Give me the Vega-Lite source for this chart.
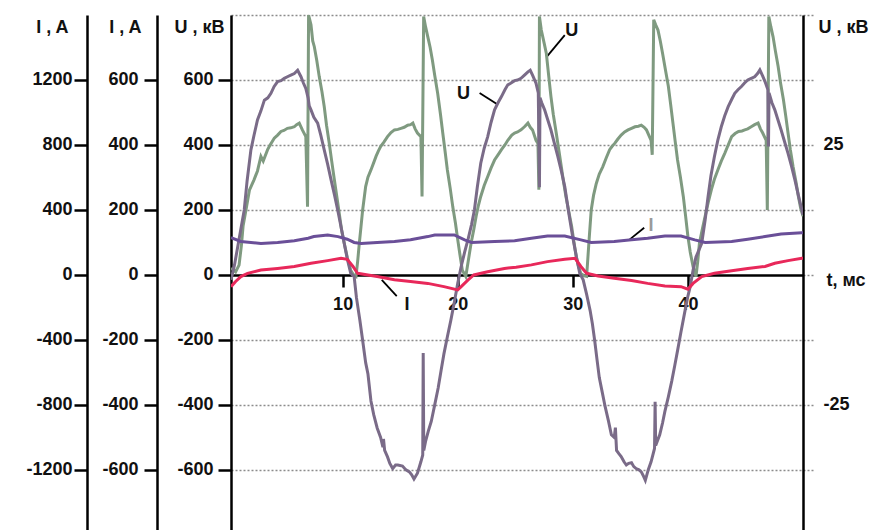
{
  "$schema": "https://vega.github.io/schema/vega-lite/v6.json",
  "width": 572,
  "height": 515,
  "autosize": {"type": "none"},
  "padding": {"left": 231, "top": 15, "right": 80, "bottom": 0},
  "background": "white",
  "config": {
    "view": {"stroke": null},
    "font": "Liberation Sans",
    "axis": {
      "labelFont": "Liberation Sans", "titleFont": "Liberation Sans",
      "labelFontSize": 18, "titleFontSize": 18, "titleFontWeight": "bold", "labelFontWeight": "bold",
      "labelColor": "#111", "titleColor": "#111",
      "domainColor": "#000", "tickColor": "#000", "domainWidth": 2.5, "tickWidth": 2.5,
      "tickSize": 13, "grid": false
    }
  },
  "datasets": {
    "u1": [
      {"t":0.3,"v":-15},{"t":0.6,"v":30},{"t":0.9,"v":90},{"t":1.2,"v":150},{"t":1.45,"v":200},{"t":1.7,"v":290},{"t":2.03,"v":385},{"t":2.3,"v":430},{"t":2.6,"v":477},{"t":2.9,"v":505},{"t":3.2,"v":538},{"t":3.5,"v":545},{"t":3.77,"v":559},{"t":4.05,"v":580},{"t":4.35,"v":595},{"t":4.65,"v":598},{"t":4.93,"v":605},{"t":5.2,"v":610},{"t":5.5,"v":615},{"t":5.8,"v":620},{"t":6.09,"v":630},{"t":6.38,"v":610},{"t":6.6,"v":590},{"t":6.8,"v":574},{"t":7.0,"v":545},{"t":7.1,"v":520},{"t":7.25,"v":508},{"t":7.5,"v":485},{"t":7.83,"v":467},{"t":8.1,"v":430},{"t":8.4,"v":385},{"t":8.7,"v":340},{"t":9.0,"v":292},{"t":9.3,"v":245},{"t":9.57,"v":200},{"t":9.85,"v":150},{"t":10.14,"v":97},{"t":10.4,"v":50},{"t":10.7,"v":5},{"t":11.0,"v":-5},{"t":11.2,"v":-70},{"t":11.5,"v":-140},{"t":11.74,"v":-202},{"t":12.0,"v":-270},{"t":12.2,"v":-305},{"t":12.46,"v":-388},{"t":12.7,"v":-430},{"t":13.0,"v":-471},{"t":13.3,"v":-500},{"t":13.5,"v":-530},{"t":13.55,"v":-505},{"t":13.65,"v":-540},{"t":13.9,"v":-560},{"t":14.1,"v":-580},{"t":14.35,"v":-596},{"t":14.6,"v":-585},{"t":14.8,"v":-585},{"t":15.2,"v":-588},{"t":15.5,"v":-600},{"t":15.8,"v":-606},{"t":16.0,"v":-615},{"t":16.2,"v":-628},{"t":16.5,"v":-610},{"t":16.8,"v":-575},{"t":16.96,"v":-554},{"t":17.0,"v":-240},{"t":17.05,"v":-540},{"t":17.2,"v":-513},{"t":17.45,"v":-480},{"t":17.7,"v":-451},{"t":18.0,"v":-400},{"t":18.3,"v":-348},{"t":18.55,"v":-295},{"t":18.8,"v":-243},{"t":19.1,"v":-190},{"t":19.4,"v":-140},{"t":19.7,"v":-85},{"t":20.0,"v":-26},{"t":20.3,"v":26},{"t":20.6,"v":70},{"t":20.9,"v":110},{"t":21.2,"v":155},{"t":21.45,"v":200},{"t":21.7,"v":270},{"t":22.0,"v":344},{"t":22.3,"v":390},{"t":22.6,"v":425},{"t":22.9,"v":470},{"t":23.2,"v":508},{"t":23.5,"v":530},{"t":23.8,"v":549},{"t":24.1,"v":570},{"t":24.35,"v":585},{"t":24.6,"v":590},{"t":24.94,"v":598},{"t":25.2,"v":600},{"t":25.5,"v":605},{"t":25.8,"v":615},{"t":26.1,"v":625},{"t":26.3,"v":630},{"t":26.5,"v":615},{"t":26.8,"v":590},{"t":27.0,"v":560},{"t":27.1,"v":270},{"t":27.15,"v":545},{"t":27.3,"v":530},{"t":27.55,"v":508},{"t":27.8,"v":480},{"t":28.1,"v":446},{"t":28.4,"v":405},{"t":28.7,"v":364},{"t":29.0,"v":320},{"t":29.3,"v":272},{"t":29.5,"v":225},{"t":29.7,"v":179},{"t":29.95,"v":125},{"t":30.2,"v":77},{"t":30.4,"v":40},{"t":30.6,"v":5},{"t":30.9,"v":-15},{"t":31.2,"v":-60},{"t":31.5,"v":-109},{"t":31.7,"v":-150},{"t":31.9,"v":-202},{"t":32.1,"v":-260},{"t":32.3,"v":-316},{"t":32.55,"v":-360},{"t":32.8,"v":-404},{"t":33.1,"v":-450},{"t":33.35,"v":-492},{"t":33.6,"v":-500},{"t":33.7,"v":-470},{"t":33.8,"v":-540},{"t":34.0,"v":-550},{"t":34.2,"v":-559},{"t":34.45,"v":-575},{"t":34.65,"v":-585},{"t":34.85,"v":-580},{"t":35.1,"v":-578},{"t":35.3,"v":-590},{"t":35.5,"v":-596},{"t":35.75,"v":-600},{"t":35.95,"v":-606},{"t":36.15,"v":-620},{"t":36.3,"v":-632},{"t":36.55,"v":-600},{"t":36.8,"v":-575},{"t":37.1,"v":-534},{"t":37.15,"v":-390},{"t":37.2,"v":-525},{"t":37.55,"v":-492},{"t":37.8,"v":-455},{"t":38.0,"v":-420},{"t":38.3,"v":-375},{"t":38.6,"v":-326},{"t":38.85,"v":-280},{"t":39.1,"v":-233},{"t":39.4,"v":-175},{"t":39.7,"v":-119},{"t":40.0,"v":-65},{"t":40.2,"v":-36},{"t":40.45,"v":15},{"t":40.7,"v":55},{"t":41.0,"v":80},{"t":41.2,"v":97},{"t":41.5,"v":170},{"t":41.75,"v":241},{"t":42.0,"v":305},{"t":42.3,"v":364},{"t":42.6,"v":415},{"t":42.9,"v":456},{"t":43.2,"v":490},{"t":43.5,"v":518},{"t":43.8,"v":540},{"t":44.07,"v":559},{"t":44.35,"v":570},{"t":44.65,"v":580},{"t":44.9,"v":590},{"t":45.2,"v":600},{"t":45.5,"v":605},{"t":45.8,"v":610},{"t":46.05,"v":620},{"t":46.25,"v":631},{"t":46.5,"v":612},{"t":46.7,"v":595},{"t":46.95,"v":570},{"t":47.0,"v":395},{"t":47.05,"v":560},{"t":47.3,"v":530},{"t":47.55,"v":508},{"t":47.8,"v":480},{"t":48.1,"v":446},{"t":48.4,"v":410},{"t":48.7,"v":374},{"t":49.0,"v":335},{"t":49.3,"v":292},{"t":49.6,"v":245},{"t":49.9,"v":200},{"t":50.0,"v":185}
    ],
    "u2": [
      {"t":0.3,"v":1.3},{"t":0.7,"v":0.6},{"t":1.0,"v":1.9},{"t":1.2,"v":5.6},{"t":1.35,"v":9.4},{"t":1.6,"v":12.5},{"t":1.9,"v":16.3},{"t":2.3,"v":18.3},{"t":2.6,"v":20.0},{"t":2.9,"v":22.8},{"t":3.1,"v":21.9},{"t":3.48,"v":24.1},{"t":3.7,"v":25.0},{"t":4.06,"v":26.3},{"t":4.35,"v":26.9},{"t":4.64,"v":27.6},{"t":4.9,"v":27.8},{"t":5.2,"v":28.2},{"t":5.5,"v":28.3},{"t":5.8,"v":28.5},{"t":6.0,"v":28.9},{"t":6.23,"v":29.2},{"t":6.5,"v":27.9},{"t":6.8,"v":26.6},{"t":6.95,"v":13.1},{"t":7.04,"v":50.0},{"t":7.25,"v":48.1},{"t":7.4,"v":45.0},{"t":7.54,"v":43.9},{"t":7.75,"v":41.3},{"t":7.97,"v":38.1},{"t":8.2,"v":35.3},{"t":8.4,"v":32.4},{"t":8.6,"v":28.8},{"t":8.84,"v":25.3},{"t":9.05,"v":21.9},{"t":9.28,"v":18.3},{"t":9.5,"v":15.0},{"t":9.7,"v":11.9},{"t":9.9,"v":8.8},{"t":10.14,"v":6.1},{"t":10.4,"v":3.4},{"t":10.7,"v":0.9},{"t":10.95,"v":0},{"t":11.16,"v":-0.3},{"t":11.3,"v":2.5},{"t":11.45,"v":6.1},{"t":11.6,"v":9.4},{"t":11.74,"v":12.5},{"t":12.0,"v":17.0},{"t":12.2,"v":18.8},{"t":12.46,"v":20.2},{"t":12.7,"v":21.6},{"t":12.9,"v":22.8},{"t":13.1,"v":23.8},{"t":13.3,"v":24.7},{"t":13.6,"v":25.6},{"t":13.9,"v":26.6},{"t":14.2,"v":27.4},{"t":14.5,"v":27.9},{"t":14.8,"v":28.0},{"t":15.07,"v":28.2},{"t":15.35,"v":28.4},{"t":15.65,"v":28.8},{"t":15.9,"v":28.9},{"t":16.1,"v":29.2},{"t":16.3,"v":28.1},{"t":16.5,"v":27.3},{"t":16.8,"v":26.6},{"t":16.9,"v":15.1},{"t":17.04,"v":49.7},{"t":17.2,"v":47.8},{"t":17.4,"v":45.8},{"t":17.6,"v":43.8},{"t":17.8,"v":41.3},{"t":18.0,"v":38.4},{"t":18.26,"v":34.9},{"t":18.5,"v":30.9},{"t":18.7,"v":27.3},{"t":18.9,"v":23.8},{"t":19.1,"v":20.2},{"t":19.35,"v":16.6},{"t":19.57,"v":13.1},{"t":19.8,"v":10.0},{"t":20.0,"v":6.8},{"t":20.2,"v":3.8},{"t":20.4,"v":0.9},{"t":20.7,"v":-0.3},{"t":20.9,"v":2.5},{"t":21.16,"v":6.1},{"t":21.4,"v":8.8},{"t":21.6,"v":11.3},{"t":21.8,"v":13.4},{"t":22.0,"v":15.1},{"t":22.3,"v":17.2},{"t":22.6,"v":18.9},{"t":22.9,"v":20.6},{"t":23.2,"v":22.1},{"t":23.5,"v":23.1},{"t":23.8,"v":24.1},{"t":24.1,"v":25.0},{"t":24.35,"v":25.9},{"t":24.7,"v":26.9},{"t":24.94,"v":27.3},{"t":25.2,"v":27.5},{"t":25.5,"v":27.9},{"t":25.8,"v":28.5},{"t":26.1,"v":29.2},{"t":26.3,"v":28.4},{"t":26.5,"v":27.9},{"t":26.8,"v":25.9},{"t":26.97,"v":25.3},{"t":27.05,"v":16.4},{"t":27.1,"v":49.7},{"t":27.26,"v":47.1},{"t":27.5,"v":44.7},{"t":27.7,"v":42.6},{"t":27.9,"v":38.4},{"t":28.1,"v":34.3},{"t":28.3,"v":30.9},{"t":28.56,"v":27.3},{"t":28.8,"v":23.8},{"t":29.0,"v":20.8},{"t":29.2,"v":17.8},{"t":29.4,"v":15.1},{"t":29.65,"v":12.2},{"t":29.9,"v":9.3},{"t":30.1,"v":6.3},{"t":30.3,"v":3.5},{"t":30.5,"v":1.6},{"t":30.7,"v":0.3},{"t":31.0,"v":-0.2},{"t":31.2,"v":-0.3},{"t":31.4,"v":6.3},{"t":31.6,"v":12.5},{"t":31.8,"v":15.3},{"t":32.04,"v":17.6},{"t":32.3,"v":19.4},{"t":32.6,"v":20.8},{"t":32.9,"v":22.5},{"t":33.2,"v":24.1},{"t":33.4,"v":24.7},{"t":33.64,"v":25.3},{"t":33.9,"v":26.1},{"t":34.2,"v":26.9},{"t":34.5,"v":27.5},{"t":34.8,"v":27.9},{"t":35.1,"v":28.2},{"t":35.4,"v":28.5},{"t":35.7,"v":28.6},{"t":35.95,"v":28.8},{"t":36.2,"v":28.4},{"t":36.4,"v":27.9},{"t":36.6,"v":26.9},{"t":36.8,"v":25.9},{"t":36.9,"v":23.1},{"t":37.03,"v":49.1},{"t":37.2,"v":48.1},{"t":37.4,"v":47.1},{"t":37.6,"v":45.0},{"t":37.8,"v":42.6},{"t":38.05,"v":39.4},{"t":38.3,"v":36.3},{"t":38.5,"v":32.8},{"t":38.7,"v":29.2},{"t":38.9,"v":25.6},{"t":39.1,"v":22.1},{"t":39.35,"v":18.8},{"t":39.6,"v":15.1},{"t":39.8,"v":11.3},{"t":40.0,"v":7.4},{"t":40.2,"v":4.4},{"t":40.45,"v":1.6},{"t":40.7,"v":-0.3},{"t":40.85,"v":2.5},{"t":41.0,"v":6.1},{"t":41.25,"v":8.8},{"t":41.5,"v":11.3},{"t":41.75,"v":13.8},{"t":42.04,"v":16.4},{"t":42.3,"v":18.4},{"t":42.6,"v":20.2},{"t":42.9,"v":21.9},{"t":43.2,"v":23.4},{"t":43.5,"v":25.0},{"t":43.8,"v":26.6},{"t":44.1,"v":27.2},{"t":44.4,"v":27.6},{"t":44.7,"v":27.7},{"t":44.94,"v":27.9},{"t":45.2,"v":28.1},{"t":45.5,"v":28.5},{"t":45.8,"v":28.9},{"t":46.1,"v":29.2},{"t":46.3,"v":28.1},{"t":46.5,"v":27.3},{"t":46.8,"v":25.9},{"t":46.9,"v":12.5},{"t":47.03,"v":49.7},{"t":47.2,"v":47.8},{"t":47.4,"v":45.8},{"t":47.6,"v":43.1},{"t":47.84,"v":40.1},{"t":48.05,"v":36.9},{"t":48.3,"v":33.7},{"t":48.5,"v":30.6},{"t":48.7,"v":27.3},{"t":48.9,"v":24.1},{"t":49.14,"v":20.8},{"t":49.4,"v":17.8},{"t":49.6,"v":15.1},{"t":49.8,"v":12.8},{"t":50.0,"v":11.3}
    ],
    "i1": [
      {"t":0.3,"v":115},{"t":1.16,"v":103},{"t":2.9,"v":97},{"t":4.35,"v":100},{"t":5.8,"v":105},{"t":7.0,"v":113},{"t":7.5,"v":118},{"t":8.7,"v":123},{"t":9.6,"v":118},{"t":10.4,"v":110},{"t":11.0,"v":100},{"t":11.6,"v":97},{"t":13.0,"v":100},{"t":14.5,"v":103},{"t":15.9,"v":108},{"t":17.4,"v":118},{"t":18.0,"v":123},{"t":19.7,"v":123},{"t":20.6,"v":108},{"t":21.2,"v":100},{"t":23.2,"v":103},{"t":24.94,"v":105},{"t":26.4,"v":113},{"t":27.8,"v":120},{"t":29.3,"v":120},{"t":30.7,"v":108},{"t":31.6,"v":100},{"t":33.6,"v":103},{"t":35.1,"v":108},{"t":36.5,"v":113},{"t":38.0,"v":120},{"t":39.4,"v":120},{"t":40.6,"v":108},{"t":41.5,"v":100},{"t":43.8,"v":103},{"t":45.2,"v":110},{"t":46.7,"v":118},{"t":48.1,"v":126},{"t":49.9,"v":130},{"t":50.0,"v":130}
    ],
    "i2": [
      {"t":0.3,"v":-72},{"t":0.7,"v":-40},{"t":1.16,"v":-10},{"t":1.74,"v":10},{"t":2.9,"v":30},{"t":4.35,"v":40},{"t":5.8,"v":52},{"t":7.25,"v":72},{"t":8.7,"v":88},{"t":9.86,"v":102},{"t":10.4,"v":96},{"t":10.9,"v":52},{"t":11.3,"v":10},{"t":12.2,"v":0},{"t":13.0,"v":-10},{"t":14.5,"v":-30},{"t":15.9,"v":-40},{"t":17.4,"v":-52},{"t":18.8,"v":-72},{"t":20.0,"v":-92},{"t":20.3,"v":-72},{"t":20.9,"v":-30},{"t":21.4,"v":0},{"t":22.6,"v":20},{"t":24.06,"v":40},{"t":25.07,"v":48},{"t":26.4,"v":62},{"t":27.8,"v":82},{"t":29.3,"v":96},{"t":30.2,"v":102},{"t":30.7,"v":52},{"t":31.2,"v":10},{"t":32.2,"v":-6},{"t":33.6,"v":-20},{"t":35.1,"v":-34},{"t":36.5,"v":-52},{"t":38.0,"v":-68},{"t":39.4,"v":-72},{"t":40.0,"v":-88},{"t":40.45,"v":-52},{"t":41.2,"v":-10},{"t":42.3,"v":10},{"t":43.8,"v":26},{"t":45.2,"v":40},{"t":46.7,"v":52},{"t":47.55,"v":72},{"t":48.7,"v":88},{"t":49.9,"v":102},{"t":50.0,"v":102}
    ],
    "ann": [
      {"t":20.5,"v":557,"label":"U","c":"k"},
      {"t":29.9,"v":751,"label":"U","c":"k"},
      {"t":15.6,"v":-92,"label":"I","c":"k"},
      {"t":36.8,"v":151,"label":"I","c":"g"}
    ],
    "lead": [
      {"t":21.9,"v":560,"t2":23.4,"v2":526},
      {"t":29.3,"v":738,"t2":27.8,"v2":674},
      {"t":13.4,"v":-15,"t2":14.7,"v2":-65},
      {"t":34.9,"v":108,"t2":36.2,"v2":145}
    ]
  },
  "encoding": {
    "x": {
      "field": "t", "type": "quantitative",
      "scale": {"domain": [0.3, 50], "nice": false, "zero": false},
      "axis": {
        "orient": "bottom", "offset": -255, "values": [10, 20, 30, 40],
        "labelExpr": "'' + datum.value",
        "title": "t, мс", "titleAngle": 0, "titleAlign": "left", "titleBaseline": "middle",
        "titleX": 595, "titleY": 5, "labelPadding": 8, "tickSize": 12, "labelFlush": false
      }
    }
  },
  "layer": [
    {
      "data": {"name": "ann"},
      "mark": {"type": "text", "fontSize": 18, "fontWeight": "bold", "font": "Liberation Sans", "align": "center", "baseline": "middle"},
      "encoding": {
        "y": {"field": "v", "type": "quantitative", "scale": {"domain": [-785, 800], "nice": false, "zero": false},
          "axis": {"orient": "left", "grid": true, "values": [-600, -400, -200, 200, 400, 600, 800], "labels": false, "ticks": false, "domain": false, "title": null, "gridColor": "#8c8c8c", "gridDash": [2, 2], "gridWidth": 1.3}},
        "text": {"field": "label"},
        "color": {"field": "c", "type": "nominal", "scale": {"domain": ["k", "g"], "range": ["#111111", "#9a9a9a"]}, "legend": null}
      }
    },
    {
      "data": {"name": "lead"},
      "mark": {"type": "rule", "color": "#000", "strokeWidth": 1.8},
      "encoding": {
        "y": {"field": "v", "type": "quantitative", "scale": {"domain": [-785, 800], "nice": false, "zero": false}, "axis": null},
        "x2": {"field": "t2"},
        "y2": {"field": "v2"}
      }
    },
    {
      "data": {"name": "u2"},
      "mark": {"type": "line", "color": "#7f9a80", "strokeWidth": 3, "clip": true},
      "encoding": {
        "y": {"field": "v", "type": "quantitative", "scale": {"domain": [-49.0625, 50], "nice": false, "zero": false},
          "axis": {"orient": "right", "values": [-37.5, -25, -12.5, 0, 12.5, 25, 37.5, 50],
            "labelExpr": "abs(datum.value) == 25 ? '' + datum.value : ''",
            "tickColor": "#8c8c8c", "tickDash": [2, 2], "tickWidth": 1.3, "tickSize": 10, "labelPadding": 10,
            "title": "U , кВ", "titleAngle": 0, "titleAlign": "left", "titleBaseline": "middle", "titleX": 15, "titleY": 12.5}}
      }
    },
    {
      "data": {"name": "u1"},
      "mark": {"type": "line", "color": "#7a6b88", "strokeWidth": 3, "clip": true},
      "encoding": {
        "y": {"field": "v", "type": "quantitative", "scale": {"domain": [-785, 800], "nice": false, "zero": false},
          "axis": {"orient": "left", "offset": 0, "values": [-600, -400, -200, 0, 200, 400, 600], "labelPadding": 5,
            "labelExpr": "'' + datum.value",
            "title": "U , кВ", "titleAngle": 0, "titleAlign": "right", "titleBaseline": "middle", "titleX": -7, "titleY": 12.5}}
      }
    },
    {
      "data": {"name": "i1"},
      "mark": {"type": "line", "color": "#6a4f98", "strokeWidth": 3, "clip": true},
      "encoding": {
        "y": {"field": "v", "type": "quantitative", "scale": {"domain": [-785, 800], "nice": false, "zero": false},
          "axis": {"orient": "left", "offset": 74, "values": [-600, -400, -200, 0, 200, 400, 600], "labelPadding": 6,
            "labelExpr": "'' + datum.value",
            "title": "I , A", "titleAngle": 0, "titleAlign": "right", "titleBaseline": "middle", "titleX": -16, "titleY": 12.5}}
      }
    },
    {
      "data": {"name": "i2"},
      "mark": {"type": "line", "color": "#e8285a", "strokeWidth": 3, "clip": true},
      "encoding": {
        "y": {"field": "v", "type": "quantitative", "scale": {"domain": [-1570, 1600], "nice": false, "zero": false},
          "axis": {"orient": "left", "offset": 144, "values": [-1200, -800, -400, 0, 400, 800, 1200], "labelPadding": 2,
            "labelExpr": "'' + datum.value",
            "title": "I , A", "titleAngle": 0, "titleAlign": "right", "titleBaseline": "middle", "titleX": -19, "titleY": 12.5}}
      }
    }
  ],
  "resolve": {"scale": {"y": "independent", "color": "independent"}, "axis": {"y": "independent"}}
}
